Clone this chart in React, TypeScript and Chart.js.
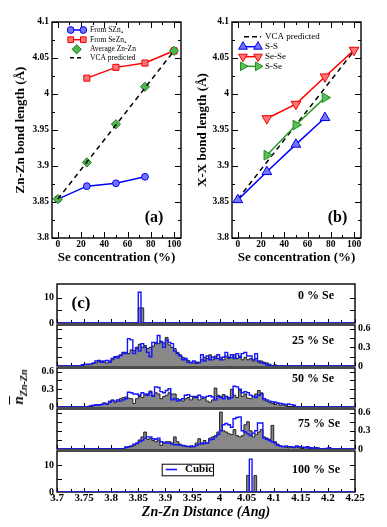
import React, { useEffect, useRef } from 'react';
import { Chart, registerables } from 'chart.js';

Chart.register(...registerables);

const SERIF = '"Liberation Serif", "Times New Roman", Times, serif';
Chart.defaults.font.family = SERIF;
Chart.defaults.color = '#000';

// ---------------- data: panels (a) and (b) ----------------
const seConcentration = [0, 25, 50, 75, 100];
const fromSZn4 = [3.854, 3.872, 3.876, 3.885]; // Se % 0,25,50,75
const fromSeZn4 = [4.022, 4.037, 4.043, 4.060]; // Se % 25,50,75,100
const averageZnZn = [3.854, 3.905, 3.958, 4.010, 4.060]; // Se % 0..100
const vcaPredicted = [3.854, 4.060]; // Se % 0,100
const ssBond = [3.853, 3.892, 3.930, 3.967]; // Se % 0..75
const seseBond = [3.966, 3.986, 4.024, 4.061]; // Se % 25..100
const sseBond = [3.915, 3.957, 3.995]; // Se % 25..75
const bondTicks = [3.8, 3.85, 3.9, 3.95, 4, 4.05, 4.1];
const concTicks = [0, 20, 40, 60, 80, 100];

// ---------------- data: panel (c) histograms ----------------
const histStart = 3.74;
const histBin = 0.005;
const gray25 = [
  0, .01, .02, .02, .03, .04, .05, .07, .08, .06,
  .05, .08, .10, .14, .16, .18, .20, .22, .20, .26,
  .25, .28, .35, .30, .33, .28, .30, .32, .38, .36,
  .40, .37, .46, .34, .30, .28, .22, .18, .14, .10,
  .09, .06, .05, .04, .06, .10, .14, .12, .18, .10,
  .16, .12, .14, .10, .16, .12, .14, .18, .12, .16,
  .10, .14, .10, .12, .08, .12, .06, .08, .06, .05,
  .03, 0, .02,
];
const blue25 = [
  0, .02, .03, .03, .03, .05, .08, .09, .06, .08,
  .09, .06, .12, .15, .13, .17, .22, .20, .44, .42,
  .20, .30, .24, .36, .30, .22, .15, .38, .36, .49,
  .38, .30, .42, .38, .36, .24, .20, .16, .10, .12,
  .06, .05, .08, .06, .05, .18, .08, .16, .10, .14,
  .12, .18, .10, .14, .22, .14, .18, .12, .20, .14,
  .20, .22, .16, .16, .10, .20, .08, .05, .04, .02,
  .01, 0, 0,
];
const gray50 = [
  0, 0, 0, 0, 0, .02, .03, .03, .05, .07,
  .05, .10, .12, .08, .10, .14, .16, .17, .15, .14,
  .06, .14, .18, .16, .20, .22, .27, .20, .24, .22,
  .14, .18, .20, .24, .22, .22, .14, .12, .10, .14,
  .16, .12, .16, .18, .12, .14, .16, .10, .08, .12,
  .32, .20, .18, .21, .18, .16, .30, .20, .16, .28,
  .18, .22, .15, .14, .18, .22, .28, .24, .12, .10,
  .08, .06, .04, .06, .03, .04, .02, .01, 0, 0,
];
const blue50 = [
  0, 0, 0, 0, .02, .03, .04, .03, .04, .06,
  .05, .08, .11, .10, .12, .10, .12, .14, .25, .24,
  .22, .22, .20, .24, .22, .20, .25, .18, .34, .33,
  .26, .24, .28, .31, .12, .14, .10, .12, .14, .20,
  .21, .18, .18, .16, .20, .17, .16, .18, .19, .17,
  .12, .18, .16, .14, .18, .14, .16, .35, .34, .30,
  .24, .26, .24, .20, .18, .16, .20, .22, .14, .12,
  .10, .09, .08, .07, .06, .05, .04, .05, .04, .03,
];
const gray75 = [
  0, 0, 0, 0, 0, 0, 0, 0, 0, 0,
  0, 0, 0, 0, 0, 0, 0, .02, .03, .04,
  .06, .10, .15, .20, .28, .16, .18, .14, .12, .15,
  .06, .10, .12, .12, .10, .20, .12, .08, .05, .04,
  .04, .03, .04, .10, .17, .08, .14, .10, .18, .20,
  .22, .28, .61, .30, .28, .25, .24, .32, .22, .20,
  .22, .40, .45, .30, .20, .24, .28, .32, .20, .18,
  .16, .39, .12, .08, .05, .04, .03, .02, .03, .02,
  .03, .02, .01, .03, .02, 0, .02, .01, .02, 0,
  0, 0, 0, 0,
];
const blue75 = [
  0, 0, 0, 0, 0, 0, 0, 0, 0, 0,
  0, 0, 0, 0, 0, 0, 0, .03, .04, .05,
  .08, .09, .12, .14, .18, .20, .20, .17, .16, .18,
  .12, .11, .10, .10, .08, .07, .07, .06, .06, .05,
  .04, .05, .04, .06, .08, .10, .09, .10, .15, .16,
  .20, .24, .30, .40, .42, .40, .36, .50, .52, .53,
  .30, .28, .25, .22, .26, .30, .43, .43, .18, .16,
  .14, .12, .10, .06, .05, .04, .05, .04, .04, .03,
  .05, .04, .03, .02, .04, .02, .01, .02, 0, 0,
  0, .01, .02, 0,
];
// isolated spikes: [from, to, height]
const spikeGray0 = [[3.85, 3.86, 6.0]];
const spikeBlue0 = [[3.85, 3.855, 12.2]];
const spikeGray100 = [[4.05, 4.055, 6.1], [4.0635, 4.0685, 6.1]];
const spikeBlue100 = [[4.055, 4.06, 12.2]];
const distTicks = [3.7, 3.75, 3.8, 3.85, 3.9, 3.95, 4, 4.05, 4.1, 4.15, 4.2, 4.25];
const fracTicks = [0, 0.3, 0.6];
const fracMarks = [0.15, 0.3, 0.45, 0.6];
const countTicks = [0, 10];
const countMarks = [5, 10];
const seLabels = ['0 % Se', '25 % Se', '50 % Se', '75 % Se', '100 % Se'];

const X_MIN = distTicks[0];
const X_MAX = distTicks[distTicks.length - 1];

// ---------------- helpers ----------------
const fmt = (v: number) => String(Math.round(v * 1000) / 1000);
const pts = (xs: number[], ys: number[]) => ys.map((y, i) => ({ x: xs[i], y }));
const midpoints = (a: number[]) => a.slice(1).map((v, i) => (v + a[i]) / 2);

function binSteps(vals: number[], pad: boolean) {
  const out: { x: number; y: number }[] = [];
  out.push({ x: pad ? X_MIN : histStart, y: 0 });
  vals.forEach((v, i) => out.push({ x: +(histStart + i * histBin).toFixed(4), y: v }));
  out.push({ x: +(histStart + vals.length * histBin).toFixed(4), y: 0 });
  if (pad) out.push({ x: X_MAX, y: 0 });
  return out;
}
function spikeSteps(spikes: number[][], pad: boolean) {
  const out: { x: number; y: number }[] = [];
  out.push({ x: pad ? X_MIN : spikes[0][0], y: 0 });
  spikes.forEach(([a, b, h]) => {
    out.push({ x: a, y: h });
    out.push({ x: b, y: 0 });
  });
  if (pad) out.push({ x: X_MAX, y: 0 });
  return out;
}

function drawMarker(ctx: CanvasRenderingContext2D, m: any, x: number, y: number) {
  const r = m.r;
  ctx.save();
  ctx.beginPath();
  if (m.style === 'circle') ctx.arc(x, y, r, 0, Math.PI * 2);
  else if (m.style === 'rect') {
    const s = r * Math.SQRT1_2;
    ctx.rect(x - s, y - s, 2 * s, 2 * s);
  } else if (m.style === 'rectRot') {
    ctx.moveTo(x, y - r); ctx.lineTo(x + r, y); ctx.lineTo(x, y + r); ctx.lineTo(x - r, y); ctx.closePath();
  } else if (m.style === 'triangle') {
    let a = ((m.rot || 0) * Math.PI) / 180;
    ctx.moveTo(x + Math.sin(a) * r, y - Math.cos(a) * r);
    a += (2 * Math.PI) / 3;
    ctx.lineTo(x + Math.sin(a) * r, y - Math.cos(a) * r);
    a += (2 * Math.PI) / 3;
    ctx.lineTo(x + Math.sin(a) * r, y - Math.cos(a) * r);
    ctx.closePath();
  }
  ctx.fillStyle = m.fill;
  ctx.fill();
  ctx.strokeStyle = m.stroke;
  ctx.lineWidth = 1;
  ctx.stroke();
  ctx.restore();
}

function makeFramePlugin(cfg: any) {
  return {
    id: 'frameTicks',
    beforeDatasetsDraw(chart: any) {
      const { ctx, chartArea: ca, scales } = chart;
      const xs = scales.x, ys = scales.y;
      ctx.save();
      ctx.strokeStyle = '#000';
      ctx.lineWidth = 1;
      ctx.beginPath();
      const tx = (vals: number[], len: number) => {
        for (const v of vals) {
          const p = Math.round(xs.getPixelForValue(v)) + 0.5;
          if (cfg.xSides.includes('bottom')) { ctx.moveTo(p, ca.bottom); ctx.lineTo(p, ca.bottom - len); }
          if (cfg.xSides.includes('top')) { ctx.moveTo(p, ca.top); ctx.lineTo(p, ca.top + len); }
        }
      };
      const ty = (vals: number[], len: number) => {
        for (const v of vals) {
          const p = Math.round(ys.getPixelForValue(v)) + 0.5;
          if (cfg.ySides.includes('left')) { ctx.moveTo(ca.left, p); ctx.lineTo(ca.left + len, p); }
          if (cfg.ySides.includes('right')) { ctx.moveTo(ca.right, p); ctx.lineTo(ca.right - len, p); }
        }
      };
      tx(cfg.xMajor, cfg.xMajorLen);
      tx(cfg.xMinor, cfg.xMinorLen);
      ty(cfg.yMajor, cfg.yMajorLen);
      ty(cfg.yMinor, cfg.yMinorLen);
      ctx.stroke();
      ctx.lineWidth = 1.4;
      ctx.strokeRect(ca.left, ca.top, ca.right - ca.left, ca.bottom - ca.top);
      ctx.restore();
    },
  };
}

function makeTextPlugin(items: any[]) {
  return {
    id: 'panelTexts',
    afterDraw(chart: any) {
      const { ctx, chartArea: ca } = chart;
      ctx.save();
      for (const t of items) {
        ctx.font = t.font;
        ctx.fillStyle = '#000';
        ctx.textAlign = t.align || 'left';
        ctx.textBaseline = 'middle';
        const x = t.fromRight ? ca.right - t.dx : ca.left + t.dx;
        ctx.fillText(t.text, x, ca.top + t.dy);
      }
      ctx.restore();
    },
  };
}

function makeLegendPlugin(cfg: any) {
  return {
    id: 'customLegend',
    afterDraw(chart: any) {
      const { ctx, chartArea: ca } = chart;
      ctx.save();
      if (cfg.box) {
        const b = cfg.box;
        ctx.fillStyle = '#fff';
        ctx.fillRect(ca.left + b.x, ca.top + b.y, b.w, b.h);
        ctx.strokeStyle = '#000';
        ctx.lineWidth = 1;
        ctx.strokeRect(ca.left + b.x + 0.5, ca.top + b.y + 0.5, b.w, b.h);
      }
      for (const it of cfg.items) {
        const y = ca.top + it.dy;
        if (it.line) {
          ctx.beginPath();
          ctx.strokeStyle = it.color;
          ctx.lineWidth = it.lineWidth || 1.5;
          ctx.setLineDash(it.dash || []);
          ctx.moveTo(ca.left + it.line[0], y);
          ctx.lineTo(ca.left + it.line[1], y);
          ctx.stroke();
          ctx.setLineDash([]);
        }
        if (it.marker) for (const mx of it.marker.at) drawMarker(ctx, it.marker, ca.left + mx, y);
        ctx.fillStyle = '#000';
        ctx.font = cfg.font;
        ctx.textAlign = 'left';
        ctx.textBaseline = 'middle';
        ctx.fillText(it.label, ca.left + cfg.textX, y);
      }
      ctx.restore();
    },
  };
}

// ---------------- styles ----------------
const BLUE_M = { style: 'circle', r: 3.4, fill: '#7474ff', stroke: '#0000ee' };
const RED_M = { style: 'rect', r: 4.3, fill: '#ff7474', stroke: '#ee0000' };
const GREEN_D = { style: 'rectRot', r: 4.6, fill: '#52b552', stroke: '#1f7a1f' };
const TRI_UP = { style: 'triangle', r: 5.6, rot: 0, fill: '#7474ff', stroke: '#0000ee' };
const TRI_DN = { style: 'triangle', r: 5.6, rot: 180, fill: '#ff7474', stroke: '#ee0000' };
const TRI_RT = { style: 'triangle', r: 5.6, rot: 90, fill: '#5cbf5c', stroke: '#1f8a1f' };

function pointDs(data: any[], m: any, lineColor: string | null) {
  return {
    data,
    showLine: !!lineColor,
    borderColor: lineColor || m.stroke,
    borderWidth: 1.5,
    pointStyle: m.style,
    pointRadius: m.r,
    pointRotation: m.rot || 0,
    pointBackgroundColor: m.fill,
    pointBorderColor: m.stroke,
    pointBorderWidth: 1,
  };
}

function topConfig(o: any) {
  return {
    type: 'line',
    data: { datasets: o.datasets },
    options: {
      responsive: false,
      animation: false,
      devicePixelRatio: 1,
      layout: { padding: o.padding },
      plugins: { legend: { display: false }, tooltip: { enabled: false } },
      scales: {
        x: {
          type: 'linear', min: -5, max: 106,
          grid: { display: false, drawTicks: false }, border: { display: false },
          ticks: { font: { size: 9.5, weight: 'bold' }, padding: 1, autoSkip: false, maxRotation: 0, callback: (v: number) => fmt(v) },
          afterBuildTicks: (ax: any) => { ax.ticks = concTicks.map((v) => ({ value: v })); },
          afterFit: (ax: any) => { ax.height = 32; },
          title: { display: true, text: 'Se concentration (%)', font: { size: 13, weight: 'bold' }, padding: { top: 0, bottom: 5 } },
        },
        y: {
          type: 'linear', min: 3.8, max: 4.1,
          grid: { display: false, drawTicks: false }, border: { display: false },
          ticks: { font: { size: 9.5, weight: 'bold' }, padding: 3, autoSkip: false, callback: (v: number) => fmt(v) },
          afterBuildTicks: (ax: any) => { ax.ticks = bondTicks.map((v) => ({ value: v })); },
          afterFit: (ax: any) => { ax.width = o.yWidth; },
          title: { display: true, text: o.yTitle, font: { size: 13, weight: 'bold' }, padding: { top: o.yTitlePad, bottom: 0 } },
        },
      },
    },
    plugins: [
      makeFramePlugin({
        xMajor: concTicks, xMinor: midpoints(concTicks), yMajor: bondTicks, yMinor: midpoints(bondTicks),
        xSides: ['bottom', 'top'], ySides: ['left', 'right'],
        xMajorLen: 6, xMinorLen: 3, yMajorLen: 6, yMinorLen: 3,
      }),
      makeTextPlugin(o.texts),
      makeLegendPlugin(o.legend),
    ],
  };
}

function histConfig(o: any) {
  const left = o.yPos === 'left';
  return {
    type: 'line',
    data: {
      datasets: [
        { data: o.blue, borderColor: '#1414ff', borderWidth: 1.4, stepped: true, pointRadius: 0, fill: false },
        { data: o.gray, borderColor: '#111', borderWidth: 0.9, backgroundColor: '#888888', stepped: true, pointRadius: 0, fill: 'origin' },
      ],
    },
    options: {
      responsive: false,
      animation: false,
      devicePixelRatio: 1,
      layout: { padding: { top: 8, bottom: o.bottom ? 0 : 8, left: left ? 0 : 57, right: left ? 32 : 0 } },
      plugins: { legend: { display: false }, tooltip: { enabled: false } },
      scales: {
        x: {
          type: 'linear', min: X_MIN, max: X_MAX, display: !!o.bottom,
          grid: { display: false, drawTicks: false }, border: { display: false },
          ticks: { font: { size: 11, weight: 'bold' }, padding: 0, autoSkip: false, maxRotation: 0, callback: (v: number) => fmt(v) },
          afterBuildTicks: (ax: any) => { ax.ticks = distTicks.map((v) => ({ value: v })); },
          afterFit: (ax: any) => { ax.height = o.bottom ? 35 : 0; },
          title: { display: true, text: 'Zn-Zn Distance (Ang)', font: { size: 14, weight: 'bold', style: 'italic' }, padding: { top: 0, bottom: 6 } },
        },
        y: {
          type: 'linear', position: o.yPos, min: 0, max: o.yMax,
          grid: { display: false, drawTicks: false }, border: { display: false },
          ticks: { font: { size: 10, weight: 'bold' }, padding: 3, autoSkip: false, callback: (v: number) => fmt(v) },
          afterBuildTicks: (ax: any) => { ax.ticks = o.yLabels.map((v: number) => ({ value: v })); },
          afterFit: (ax: any) => { ax.width = left ? 57 : 32; },
        },
      },
    },
    plugins: [
      makeFramePlugin({
        xMajor: distTicks, xMinor: midpoints(distTicks), yMajor: o.yMarks, yMinor: [],
        xSides: ['bottom'], ySides: ['left', 'right'],
        xMajorLen: 4, xMinorLen: 3, yMajorLen: 5, yMinorLen: 0,
      }),
      makeTextPlugin(o.texts),
      makeLegendPlugin(o.legend || { items: [] }),
    ],
  };
}

function ChartCanvas({ left, top, width, height, make }: any) {
  const ref = useRef<HTMLCanvasElement | null>(null);
  useEffect(() => {
    const chart = new Chart(ref.current as HTMLCanvasElement, make() as any);
    return () => chart.destroy();
  }, []);
  return (
    <canvas
      ref={ref}
      width={width}
      height={height}
      style={{ position: 'absolute', left, top, width, height }}
    />
  );
}

const LBL = `bold 12px ${SERIF}`;

export default function App() {
  const c = seConcentration;
  const makeA = () =>
    topConfig({
      padding: { top: 22, left: 0, right: 11, bottom: 0 },
      yWidth: 52,
      yTitle: 'Zn-Zn bond length (Å)',
      yTitlePad: 13,
      datasets: [
        { data: pts([c[0], c[4]], vcaPredicted), borderColor: '#000', borderWidth: 1.5, borderDash: [5, 4], pointRadius: 0 },
        pointDs(pts(c, averageZnZn), GREEN_D, null),
        pointDs(pts(c.slice(0, 4), fromSZn4), BLUE_M, '#0000ff'),
        pointDs(pts(c.slice(1), fromSeZn4), RED_M, '#ff0000'),
      ],
      texts: [{ text: '(a)', dx: 102, dy: 196, font: `bold 16px ${SERIF}`, align: 'center' }],
      legend: {
        font: `7.5px ${SERIF}`,
        textX: 38,
        items: [
          { label: 'From SZn₄', dy: 8, line: [16, 33], color: '#0000ff', marker: { ...BLUE_M, at: [18.7, 31.3] } },
          { label: 'From SeZn₄', dy: 17.7, line: [16, 33], color: '#ff0000', marker: { ...RED_M, r: 4, at: [18.7, 31.3] } },
          { label: 'Average Zn-Zn', dy: 27.3, marker: { ...GREEN_D, at: [24.7] } },
          { label: 'VCA predicted', dy: 35.8, line: [18, 31], color: '#000', dash: [4, 3] },
        ],
      },
    });
  const makeB = () =>
    topConfig({
      padding: { top: 22, left: 0, right: 26, bottom: 0 },
      yWidth: 40,
      yTitle: 'X-X bond length (Å)',
      yTitlePad: 3.2,
      datasets: [
        pointDs(pts(c.slice(1, 4), sseBond), TRI_RT, '#22a022'),
        pointDs(pts(c.slice(1), seseBond), TRI_DN, '#ff0000'),
        pointDs(pts(c.slice(0, 4), ssBond), TRI_UP, '#0000ff'),
        { data: pts([c[0], c[4]], vcaPredicted), borderColor: '#000', borderWidth: 1.5, borderDash: [5, 4], pointRadius: 0 },
      ],
      texts: [{ text: '(b)', dx: 105.5, dy: 196, font: `bold 16px ${SERIF}`, align: 'center' }],
      legend: {
        font: `9px ${SERIF}`,
        textX: 33,
        items: [
          { label: 'VCA predicted', dy: 14.7, line: [12, 29], color: '#000', dash: [5, 3] },
          { label: 'S-S', dy: 24.7, line: [11, 26], color: '#0000ff', marker: { ...TRI_UP, r: 5, at: [11, 26] } },
          { label: 'Se-Se', dy: 34.7, line: [11, 26], color: '#ff0000', marker: { ...TRI_DN, r: 5, at: [11, 26] } },
          { label: 'S-Se', dy: 44.3, line: [11, 26], color: '#22a022', marker: { ...TRI_RT, r: 5, at: [11, 26] } },
        ],
      },
    });

  const hist = [
    {
      top: 283, h: 41, yPos: 'left', yMax: 15.5, yLabels: countTicks, yMarks: countMarks,
      blue: spikeSteps(spikeBlue0, true), gray: spikeSteps(spikeGray0, false),
      texts: [
        { text: '(c)', dx: 24, dy: 20, font: `bold 17px ${SERIF}`, align: 'center' },
        { text: seLabels[0], dx: 21, dy: 11.7, font: LBL, align: 'right', fromRight: true },
      ],
    },
    {
      top: 324, h: 43, yPos: 'right', yMax: 0.66, yLabels: fracTicks, yMarks: fracMarks,
      blue: binSteps(blue25, true), gray: binSteps(gray25, false),
      texts: [{ text: seLabels[1], dx: 21, dy: 16, font: LBL, align: 'right', fromRight: true }],
    },
    {
      top: 367, h: 41, yPos: 'left', yMax: 0.66, yLabels: fracTicks, yMarks: fracMarks,
      blue: binSteps(blue50, true), gray: binSteps(gray50, false),
      texts: [{ text: seLabels[2], dx: 21, dy: 11, font: LBL, align: 'right', fromRight: true }],
    },
    {
      top: 408, h: 42, yPos: 'right', yMax: 0.66, yLabels: fracTicks, yMarks: fracMarks,
      blue: binSteps(blue75, true), gray: binSteps(gray75, false),
      texts: [{ text: seLabels[3], dx: 15, dy: 14.7, font: LBL, align: 'right', fromRight: true }],
    },
    {
      top: 450, h: 42, yPos: 'left', yMax: 15.2, yLabels: countTicks, yMarks: countMarks, bottom: true,
      blue: spikeSteps(spikeBlue100, true), gray: spikeSteps(spikeGray100, false),
      texts: [{ text: seLabels[4], dx: 15, dy: 19, font: LBL, align: 'right', fromRight: true }],
      legend: {
        font: `bold 11px ${SERIF}`,
        textX: 128,
        box: { x: 104.7, y: 12.7, w: 51.3, h: 11.6 },
        items: [{ label: 'Cubic', dy: 18.5, line: [108.7, 120], color: '#1414ff', lineWidth: 1.6 }],
      },
    },
  ];

  return (
    <div style={{ position: 'absolute', left: 0, top: 0, width: 387, height: 527, background: '#fff', overflow: 'hidden' }}>
      <ChartCanvas left={0} top={0} width={192} height={270} make={makeA} />
      <ChartCanvas left={192} top={0} width={195} height={270} make={makeB} />
      {hist.map((p, i) => (
        <ChartCanvas
          key={i}
          left={0}
          top={p.top - 8}
          width={387}
          height={p.bottom ? 527 - (p.top - 8) : p.h + 16}
          make={() => histConfig(p)}
        />
      ))}
      <div
        style={{
          position: 'absolute',
          left: 21,
          top: 387,
          transform: 'translate(-50%, -50%) rotate(-90deg)',
          font: `italic bold 15px ${SERIF}`,
          whiteSpace: 'nowrap',
          lineHeight: '18px',
        }}
      >
        <span style={{ textDecoration: 'overline' }}>n</span>
        <sub style={{ fontSize: 10 }}>Zn-Zn</sub>
      </div>
    </div>
  );
}
